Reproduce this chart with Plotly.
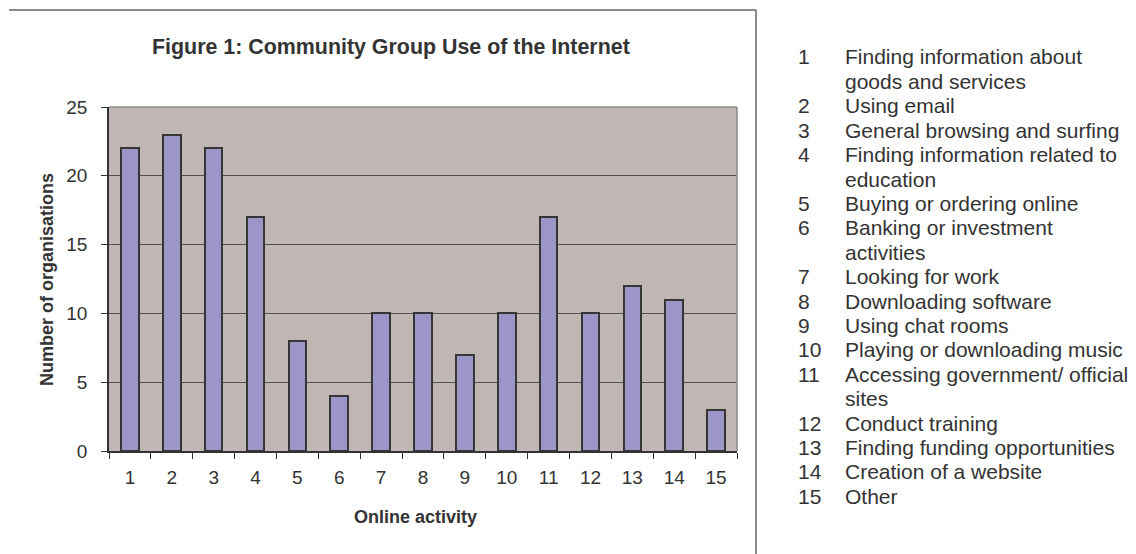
import plotly.graph_objects as go

# ---- data ----
activities = [str(i) for i in range(1, 16)]
organisations = [22, 23, 22, 17, 8, 4, 10, 10, 7, 10, 17, 10, 12, 11, 3]
y_ticks = [0, 5, 10, 15, 20, 25]
legend_numbers = ["1", "", "2", "3", "4", "", "5", "6", "", "7", "8", "9", "10", "11", "", "12", "13", "14", "15"]
legend_texts = [
    "Finding information about", "goods and services", "Using email",
    "General browsing and surfing", "Finding information related to", "education",
    "Buying or ordering online", "Banking or investment", "activities",
    "Looking for work", "Downloading software", "Using chat rooms",
    "Playing or downloading music", "Accessing government/ official", "sites",
    "Conduct training", "Finding funding opportunities", "Creation of a website", "Other",
]
title_text = "Figure 1: Community Group Use of the Internet"
x_title = "Online activity"
y_title = "Number of organisations"

# ---- layout geometry (pixels) ----
W, H = 1136, 554
L, R, T, B = 109, 399, 107, 103
PW, PH = W - L - R, H - T - B
FONT = "Liberation Sans, Arial, sans-serif"
TXT = "#333333"


def px(x):
    return (x - L) / PW


def py(y):
    return (H - B - y) / PH


fig = go.Figure()
fig.add_trace(go.Bar(
    x=activities, y=organisations, width=0.42,
    marker=dict(color="#9c96c8", line=dict(color="#363636", width=2)),
    hoverinfo="x+y",
))

annotations = []
# title
annotations.append(dict(text="<b>" + title_text + "</b>", x=px(391), y=py(47), xref="paper", yref="paper",
                        showarrow=False, xanchor="center", yanchor="middle",
                        font=dict(family=FONT, size=21.4, color=TXT)))
# axis titles
annotations.append(dict(text="<b>" + x_title + "</b>", x=px(415), y=py(517), xref="paper", yref="paper",
                        showarrow=False, xanchor="center", yanchor="middle",
                        font=dict(family=FONT, size=18, color=TXT)))
annotations.append(dict(text="<b>" + y_title + "</b>", x=px(47), y=py(279), xref="paper", yref="paper",
                        showarrow=False, xanchor="center", yanchor="middle", textangle=-90,
                        font=dict(family=FONT, size=18, color=TXT)))
# legend key list
y0, step = 57, 24.4
for i, (num, txt) in enumerate(zip(legend_numbers, legend_texts)):
    yy = py(y0 + i * step)
    if num:
        annotations.append(dict(text=num, x=px(796), y=yy, xref="paper", yref="paper", showarrow=False,
                                xanchor="left", yanchor="middle",
                                font=dict(family=FONT, size=21, color=TXT)))
    annotations.append(dict(text=txt, x=px(843), y=yy, xref="paper", yref="paper", showarrow=False,
                            xanchor="left", yanchor="middle",
                            font=dict(family=FONT, size=21, color=TXT)))

shapes = [
    # plot area border (top and right, lighter gray)
    dict(type="line", xref="paper", yref="paper", x0=0, x1=1, y0=1, y1=1,
         line=dict(color="#8f8785", width=1.5), layer="above"),
    dict(type="line", xref="paper", yref="paper", x0=1, x1=1, y0=0, y1=1,
         line=dict(color="#8f8785", width=1.5), layer="above"),
    # outer frame lines
    dict(type="line", xref="paper", yref="paper", x0=px(9), x1=px(756), y0=py(10), y1=py(10),
         line=dict(color="#666666", width=1.5)),
    dict(type="line", xref="paper", yref="paper", x0=px(756), x1=px(756), y0=py(10), y1=py(556),
         line=dict(color="#666666", width=1.5)),
]

fig.update_layout(
    width=W, height=H,
    margin=dict(l=L, r=R, t=T, b=B, pad=0),
    paper_bgcolor="white", plot_bgcolor="#c0b7b4",
    showlegend=False, bargap=0,
    annotations=annotations, shapes=shapes,
    font=dict(family=FONT, size=19, color=TXT),
)
fig.update_xaxes(
    type="category", tickson="boundaries", ticks="outside", ticklen=6, tickwidth=1, tickcolor="#333333",
    showline=True, linecolor="#333333", linewidth=1.5, showgrid=False,
    tickfont=dict(family=FONT, size=19, color=TXT), ticklabelstandoff=8,
)
fig.update_yaxes(
    range=[0, 25], tickvals=y_ticks, ticks="outside", ticklen=6, tickwidth=1, tickcolor="#333333",
    showline=True, linecolor="#333333", linewidth=1.5,
    showgrid=True, gridcolor="#505050", gridwidth=1, zeroline=False,
    tickfont=dict(family=FONT, size=19, color=TXT), ticklabelstandoff=10,
)

fig.write_html("out.html", config={"displayModeBar": False})
